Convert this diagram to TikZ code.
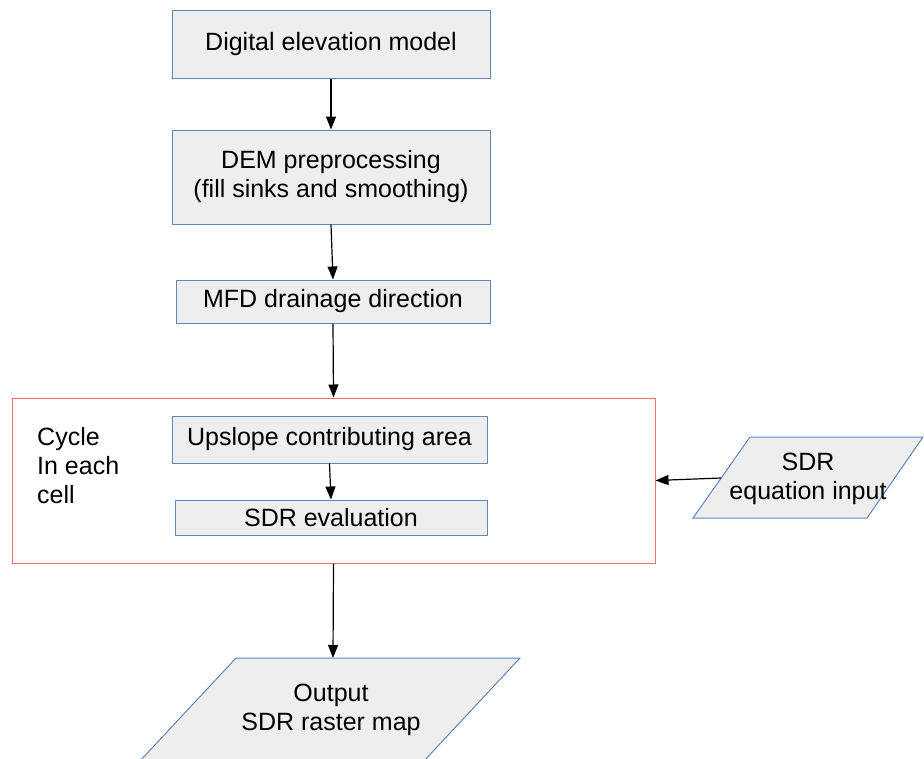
\documentclass[tikz,border=0pt]{standalone}
\usepackage{fontspec}
\setmainfont{Liberation Sans}
\usetikzlibrary{arrows.meta}
\definecolor{boxblue}{RGB}{95,135,190}
\definecolor{boxgray}{RGB}{238,238,238}
\definecolor{cyclered}{RGB}{245,110,110}
\begin{document}
\begin{tikzpicture}[x=1pt,y=-1pt,
  every node/.style={font=\fontsize{25}{29}\selectfont, text=black},
  procbox/.style={draw=boxblue, fill=boxgray, line width=1pt, inner sep=0pt, align=center},
  arr/.style={draw=black, line width=1.2pt, -{Triangle[length=13pt,width=10pt]}},
  iobox/.style={draw=boxblue, fill=boxgray, line width=1pt}]
\useasboundingbox (0,0) rectangle (924,758);
\clip (0,0) rectangle (924,758);
\node[procbox, minimum width=318pt, minimum height=68pt] (b1) at (331,44) {Digital elevation model};
\node[procbox, minimum width=318pt, minimum height=94pt] (b2) at (331,177) {DEM preprocessing\\(fill sinks and smoothing)};
\node[procbox, minimum width=314pt, minimum height=43pt] (b3) at (333,301.5) {MFD drainage direction};
\node[draw=cyclered, line width=1pt, minimum width=643pt, minimum height=165pt, inner sep=0pt] (cyc) at (333.5,480.5) {};
\node[anchor=north west, inner sep=0pt, align=left] (cyctext) at (37,427) {Cycle\\In each\\cell};
\node[procbox, minimum width=315pt, minimum height=47pt] (b4) at (329.5,439.5) {Upslope contributing area};
\node[procbox, minimum width=312pt, minimum height=35pt] (b5) at (331,517.5) {SDR evaluation};
% SDR equation input parallelogram
\draw[iobox] (750,437) -- (923,437) -- (867,518) -- (693,518) -- cycle;
\node[inner sep=0pt, align=center] (sdr) at (808,478.5) {SDR\\equation input};
\coordinate (sdrL) at (721,478);
% Output parallelogram
\draw[iobox] (236,658) -- (520,658) -- (423,762) -- (139,762) -- cycle;
\node[inner sep=0pt, align=center] (out) at (331,709.5) {Output\\SDR raster map};
\coordinate (outT) at (333,658);
% connectors
\draw[arr] (b1.south) -- (b2.north);
\draw[arr] (b2.south) -- (b3.north);
\draw[arr] (b3.south) -- (cyc.north);
\draw[arr] (b4.south) -- (b5.north);
\draw[arr] (sdrL) -- (cyc.east);
\draw[arr] (cyc.south) -- (outT);
\end{tikzpicture}
\end{document}
